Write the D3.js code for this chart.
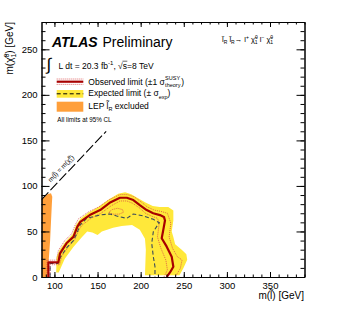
<!DOCTYPE html>
<html>
<head>
<meta charset="utf-8">
<script src="https://cdn.jsdelivr.net/npm/d3@7"></script>
<style>
  body { margin: 0; background: #fff; }
  svg { display: block; font-family: "Liberation Sans", Arial, Helvetica, sans-serif; }
</style>
</head>
<body>
<script>
// ---- data (GeV) ----
var xTicks = [100, 150, 200, 250, 300, 350];
var yTicks = [0, 50, 100, 150, 200, 250];

var lepExcluded = [[85,0],[92,0],[93.5,20],[95,40],[96,60],[97,80],[97.5,88],[96,92],[92,91],[85,86]];

var observed = [[93,0],[93,16],[104.5,16],[106.5,26],[114,37],[122,44],[126.5,55],[130,60.5],[141,68],[153,73.5],
  [164,81.5],[176,87],[184,87],[191.5,84.5],[199,79],[207,73.5],[214.5,70],[222.4,68],[227,66],[228.2,62],
  [226.3,52],[224.4,42.5],[230.2,33.3],[236,22.3],[237.9,11.3],[234,5],[230.2,0]];

var obsUp = [[91.5,0],[91.5,18.5],[102.5,18.5],[104.5,29],[112,40],[120,47.5],[124.5,58],[128,64],[139.5,71.5],[151.5,77],
  [163.5,85],[176,90.5],[184.5,90.5],[192.5,88],[200.5,82.5],[207.5,77],[215.5,73.5],[223.5,72],[231,70],[235,59],
  [233,44],[237,31.5],[242.5,22.3],[248,18.7],[246,9.5],[240,0]];

var obsDown = [[95,0],[95,13.5],[106,13.5],[108.5,23],[116,33],[123.5,41],[128.5,52],[132,57],[142.5,64.5],[154,70],
  [165.5,78],[176,83.5],[184,83.5],[190.5,81],[198.5,76],[205.5,70],[213.5,66.5],[219.5,64.5],[221.5,59],[219.5,44],
  [223.5,31.5],[229.2,18.7],[231,7.7],[227,0]];

var obsIsland = [[163,71],[167,74],[173,75.5],[179,74],[180,71],[175,69],[168,69],[163,71]];

var expected = [[95,0],[95,15],[104,15],[107,22],[115,33],[122,40],[126,48],[129.7,57],[137.4,64.4],[152.8,68.1],
  [164.4,69.2],[172.2,67],[183.8,64.4],[191.5,69.2],[203.1,67],[214.7,63.3],[221.6,59.6],[218.5,55.3],
  [214.7,49.8],[212.8,37],[214.7,22.3],[216.6,11.3],[216.6,0]];

var bandOuter = [[102,5],[102.5,22],[106,30],[113,39],[121,47],[125,57],[130,64],[140,71],[151,77],[163,85],
  [174,91.5],[182,93],[189,91],[196,87],[205,82],[214,78],[222,77],[232,77],[237.9,73],[237.9,62],[236,50],
  [237.9,44],[240,36],[247.6,30],[253,25],[254,19],[249.5,9.5],[245,2]];
var bandInner = [[205,2],[206,30],[205,42],[199,52],[190,57],[178,56],[168,54],[155,50],[150,46],[144,49],
  [138,50],[132,44],[122,33],[112,20],[105,5]];

var diagonal = [85, 160];

var W = 346, H = 315;
var x = d3.scaleLinear().domain([85, 390]).range([41.5, 304.5]);
var y = d3.scaleLinear().domain([0, 280]).range([277, 22]);

var svg = d3.select("body").append("svg").attr("width", W).attr("height", H);

var line = d3.line().x(function (d) { return x(d[0]); }).y(function (d) { return y(d[1]); });

svg.append("defs").append("clipPath").attr("id", "clip")
  .append("rect").attr("x", x(85)).attr("y", y(280)).attr("width", x(390) - x(85)).attr("height", y(0) - y(280));
var plot = svg.append("g").attr("clip-path", "url(#clip)");

// yellow +-1 sigma expected band
plot.append("path").attr("d", line(bandOuter.concat(bandInner)) + "Z").attr("fill", "#ffe83a");
// LEP
plot.append("path").attr("d", line(lepExcluded) + "Z").attr("fill", "#ff9f3a");

// theory dotted
[obsUp, obsDown, obsIsland].forEach(function (c) {
  plot.append("path").attr("d", line(c)).attr("fill", "none")
    .attr("stroke", "#d84545").attr("stroke-width", 0.8).attr("stroke-dasharray", "1,1");
});
// expected
plot.append("path").attr("d", line(expected)).attr("fill", "none")
  .attr("stroke", "#3a4a5c").attr("stroke-width", 1.1).attr("stroke-dasharray", "4,2.5");
// observed
plot.append("path").attr("d", line(observed)).attr("fill", "none")
  .attr("stroke", "#a80000").attr("stroke-width", 2.2).attr("stroke-linejoin", "round");

// kinematic line
plot.append("line")
  .attr("x1", x(diagonal[0])).attr("y1", y(diagonal[0]))
  .attr("x2", x(diagonal[1])).attr("y2", y(diagonal[1]))
  .attr("stroke", "#000").attr("stroke-width", 1.1).attr("stroke-dasharray", "10,3");

// ---- axes (ROOT style: inward ticks on all sides) ----
function minors(dom, step) {
  var out = [];
  for (var v = Math.ceil(dom[0] / step) * step; v <= dom[1]; v += step) out.push(v);
  return out;
}
var xMinor = minors(x.domain(), 10), yMinor = minors(y.domain(), 10);

function addAxis(axis, tr, labels) {
  var g = svg.append("g").attr("transform", tr).call(axis);
  g.selectAll("path").attr("stroke", "#000").attr("stroke-width", 1);
  g.selectAll("line").attr("stroke", "#000").attr("stroke-width", 1);
  g.selectAll("text").attr("font-size", 9.5).attr("fill", "#000")
    .attr("font-family", "'Liberation Sans', Arial, sans-serif");
  if (!labels) g.selectAll("text").remove();
  return g;
}
addAxis(d3.axisBottom(x).tickValues(xMinor).tickSize(-2.5).tickSizeOuter(0).tickFormat(""), "translate(0,277)", false);
addAxis(d3.axisBottom(x).tickValues(xTicks).tickSize(-5).tickSizeOuter(0).tickPadding(5), "translate(0,277)", true);
addAxis(d3.axisTop(x).tickValues(xMinor).tickSize(-2.5).tickSizeOuter(0).tickFormat(""), "translate(0,22)", false);
addAxis(d3.axisTop(x).tickValues(xTicks).tickSize(-5).tickSizeOuter(0), "translate(0,22)", false);
addAxis(d3.axisLeft(y).tickValues(yMinor).tickSize(-4).tickSizeOuter(0).tickFormat(""), "translate(41.5,0)", false);
addAxis(d3.axisLeft(y).tickValues(yTicks).tickSize(-8).tickSizeOuter(0).tickPadding(4), "translate(41.5,0)", true);
addAxis(d3.axisRight(y).tickValues(yMinor).tickSize(-4).tickSizeOuter(0).tickFormat(""), "translate(304.5,0)", false);
addAxis(d3.axisRight(y).tickValues(yTicks).tickSize(-8).tickSizeOuter(0), "translate(304.5,0)", false);

// ---- text helpers ----
function rich(parent, px, py, size, parts, anchor) {
  var t = parent.append("text").attr("x", px).attr("y", py).attr("font-size", size)
    .attr("text-anchor", anchor || "start").attr("fill", "#000");
  parts.forEach(function (p) {
    var s = t.append("tspan").text(p.t);
    if (p.dy) s.attr("dy", p.dy);
    if (p.dx) s.attr("dx", p.dx);
    if (p.s) s.attr("font-size", p.s);
    if (p.w) s.attr("font-weight", p.w);
    if (p.i) s.attr("font-style", "italic");
  });
  return t;
}
var tl = "\u0303";

// axis titles
rich(svg, 304, 299, 10, [{t: "m("}, {t: "l" + tl}, {t: ") [GeV]"}], "end");
var yt = svg.append("g").attr("transform", "translate(13,22) rotate(-90)");
rich(yt, 0, 0, 10, [{t: "m(\u03c7" + tl}, {t: "0", s: 7, dy: -4}, {t: "1", s: 7, dy: 7, dx: -3.9},
  {t: ") [GeV]", dy: -3}], "end");

// ATLAS label
rich(svg, 52, 46.5, 14, [{t: "ATLAS", w: "bold", i: true}, {t: " Preliminary", dx: 1}]);

// process
rich(svg, 222, 42, 7.5, [{t: "l" + tl}, {t: "R", s: 5, dy: 2}, {t: " l" + tl, dy: -2}, {t: "R", s: 5, dy: 2},
  {t: "\u2192 l", dy: -2}, {t: "+", s: 5, dy: -3}, {t: " \u03c7" + tl, dy: 3}, {t: "0", s: 5, dy: -3},
  {t: "1", s: 5, dy: 5, dx: -2.8}, {t: " l", dy: -2}, {t: "\u2212", s: 5, dy: -3}, {t: " \u03c7" + tl, dy: 3},
  {t: "0", s: 5, dy: -3}, {t: "1", s: 5, dy: 5, dx: -2.8}]);

// luminosity
svg.append("text").attr("x", 46.5).attr("y", 70).attr("font-size", 17).text("\u222b");
var lum = rich(svg, 58.5, 68.5, 8.5, [{t: "L dt = 20.3 fb"}, {t: "-1", s: 6, dy: -3.5}, {t: ", \u221as", dy: 3.5},
  {t: "=8 TeV"}]);
var sIdx = "L dt = 20.3 fb-1, \u221a".length;
var s0 = lum.node().getStartPositionOfChar(sIdx), s1 = lum.node().getEndPositionOfChar(sIdx);
svg.append("line").attr("x1", s0.x - 0.3).attr("x2", s1.x + 0.3).attr("y1", 61.2).attr("y2", 61.2)
  .attr("stroke", "#000").attr("stroke-width", 0.6);

// ---- legend ----
var lx0 = 56.7, lx1 = 83.3, tx = 88.3;
svg.append("line").attr("x1", lx0).attr("x2", lx1).attr("y1", 79).attr("y2", 79)
  .attr("stroke", "#d84545").attr("stroke-width", 0.8).attr("stroke-dasharray", "1,1");
svg.append("line").attr("x1", lx0).attr("x2", lx1).attr("y1", 84.4).attr("y2", 84.4)
  .attr("stroke", "#d84545").attr("stroke-width", 0.8).attr("stroke-dasharray", "1,1");
svg.append("line").attr("x1", lx0).attr("x2", lx1).attr("y1", 81.7).attr("y2", 81.7)
  .attr("stroke", "#a80000").attr("stroke-width", 2.2);
var t1 = rich(svg, tx, 84.5, 8.5, [{t: "Observed limit (\u00b11 \u03c3"}]);
var w1 = t1.node().getComputedTextLength();
rich(svg, tx + w1 + 0.3, 79.5, 5.5, [{t: "SUSY"}]);
rich(svg, tx + w1 + 0.3, 87, 5.5, [{t: "theory"}]);
svg.append("text").attr("x", tx + w1 + 16.5).attr("y", 84.5).attr("font-size", 8.5).text(")");

svg.append("rect").attr("x", lx0).attr("y", 90).attr("width", lx1 - lx0).attr("height", 7.7).attr("fill", "#ffe83a");
svg.append("line").attr("x1", lx0).attr("x2", lx1).attr("y1", 93.8).attr("y2", 93.8)
  .attr("stroke", "#000").attr("stroke-width", 1).attr("stroke-dasharray", "4,2.5");
rich(svg, tx, 96, 8.5, [{t: "Expected limit (\u00b1 \u03c3"}, {t: "exp", s: 5.5, dy: 2.5}, {t: ")", dy: -2.5}]);

svg.append("rect").attr("x", lx0).attr("y", 101.7).attr("width", lx1 - lx0).attr("height", 10).attr("fill", "#ff9f3a");
rich(svg, tx, 108.5, 8.5, [{t: "LEP "}, {t: "l" + tl}, {t: "R", s: 5.5, dy: 2.5}, {t: " excluded", dy: -2.5}]);

rich(svg, 57.3, 122.3, 6.3, [{t: "All limits at 95% CL"}]);

// kinematic label
var ang = Math.atan2(y(diagonal[1]) - y(diagonal[0]), x(diagonal[1]) - x(diagonal[0])) * 180 / Math.PI;
var kg = svg.append("g").attr("transform", "translate(" + x(100) + "," + y(100) + ") rotate(" + ang + ")");
rich(kg, 0, -5, 6.5, [{t: "m("}, {t: "l" + tl}, {t: ") = m(\u03c7" + tl}, {t: "0", s: 4.5, dy: -2.5},
  {t: "1", s: 4.5, dy: 4, dx: -2.5}, {t: ")", dy: -1.5}]);
</script>
</body>
</html>
